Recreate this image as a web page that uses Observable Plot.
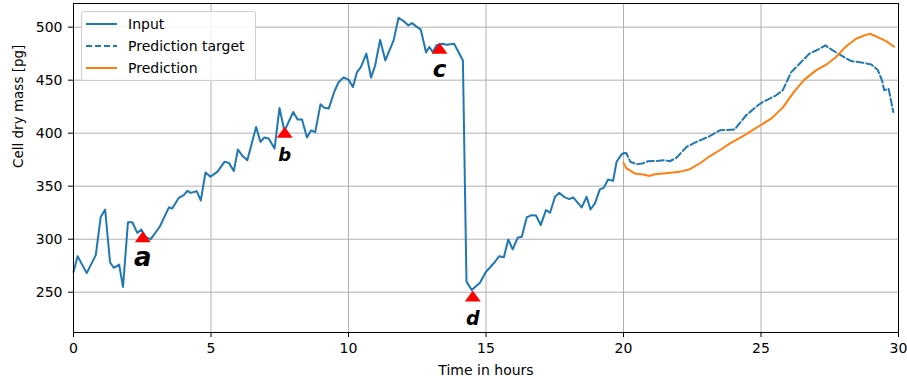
<!DOCTYPE html>
<html>
<head>
<meta charset="utf-8">
<script src="https://cdn.jsdelivr.net/npm/d3@7"></script>
<script src="https://cdn.jsdelivr.net/npm/@observablehq/plot@0.6"></script>
<style>
  html, body { margin: 0; padding: 0; background: #fff; }
  #wrap { position: relative; width: 907px; height: 383px; font-family: "DejaVu Sans", sans-serif; }
  #legend { position: absolute; left: 81px; top: 11px; width: 175px; height: 70px;
    border: 1px solid #d0d0d0; border-radius: 3px; background: rgba(255,255,255,0.85);
    box-sizing: border-box; font-size: 14px; color: #000; }
  .row { position: absolute; left: 0; height: 22px; width: 100%; }
  .row svg { position: absolute; left: 3px; top: 0; }
  .row span { position: absolute; left: 46px; top: 2px; line-height: 18px; white-space: nowrap; }
</style>
</head>
<body>
<div id="wrap"></div>
<script>
// ---- data ----
const xTicks = [0, 5, 10, 15, 20, 25, 30];
const yTicks = [250, 300, 350, 400, 450, 500];
const xLabel = "Time in hours";
const yLabel = "Cell dry mass [pg]";
const seriesNames = ["Input", "Prediction target", "Prediction"];

const inputTime = [0.0,0.15,0.48,0.81,0.99,1.15,1.33,1.47,1.66,1.80,1.98,2.14,2.32,2.47,2.62,2.81,3.14,3.47,3.59,3.83,4.01,4.14,4.26,4.48,4.63,4.80,4.98,5.23,5.49,5.65,5.83,5.98,6.13,6.32,6.64,6.80,6.94,7.10,7.31,7.49,7.67,7.99,8.15,8.31,8.49,8.64,8.79,8.98,9.12,9.28,9.49,9.64,9.82,10.0,10.16,10.31,10.45,10.65,10.82,10.97,11.15,11.34,11.64,11.82,12.0,12.18,12.31,12.46,12.63,12.82,12.94,13.07,13.2,13.39,13.58,13.84,14.16,14.29,14.48,14.78,15.0,15.17,15.33,15.48,15.65,15.81,15.97,16.15,16.30,16.48,16.66,16.82,16.99,17.18,17.33,17.51,17.66,17.87,18.03,18.17,18.48,18.66,18.80,18.96,19.14,19.28,19.44,19.62,19.75,19.93,20.0];
const inputMass = [269,284,268,285,321,328,278,273,276,255,316,316,306,309,302,300,312,330,329,339,341.5,345.6,343.7,345.3,336.5,363,359,363.5,373,372,364.4,384.6,379,374.5,405.8,391.7,395.9,394.9,385.5,423.7,402,420,412.8,412.8,396,402.7,401,427.2,424,423.2,439.5,448,452.5,450.5,443.5,457.6,462.3,475,452.4,464,488,468.6,487.5,508.9,505.7,501.6,503.8,500.7,497.6,476,481.2,476.5,483,484.4,483.4,484.4,468.6,260,252,259,269.3,274,278.7,284,283,299.8,290.4,301.3,302.3,320.5,322.7,322.4,313.3,327.4,325,340,343.7,339.4,337.8,339.4,330,340,328,333.8,347,348.4,356.3,355,373,380,381];

const targetTime = [20.0,20.1,20.25,20.47,20.69,20.89,21.20,21.50,21.68,21.92,22.29,22.65,23.13,23.50,24.04,24.46,24.89,25.07,25.55,25.79,26.10,26.40,26.76,27.06,27.34,27.61,27.91,28.28,28.70,29.0,29.24,29.40,29.48,29.64,29.81];
const targetMass = [381,381.4,373,370.7,371.4,373.5,373.8,374.5,373.5,376.6,387,391.7,397.1,402.7,403.4,416.9,426.3,429.4,435.7,440.4,457.6,465.5,475,478.7,482.8,478.1,473.4,468,466.5,464.9,459.9,449.8,440.4,442,420];

const predTime = [20.0,20.11,20.41,20.71,20.95,21.14,21.62,22.04,22.41,22.77,23.13,23.50,23.86,24.34,24.65,24.95,25.37,25.79,26.22,26.58,27.0,27.37,27.73,28.09,28.46,28.76,28.97,29.24,29.55,29.84];
const predMass = [372,366.7,362,361,359.7,361.3,362.5,363.5,366,371.4,378.2,383.9,390.2,397.1,402.1,407,413.7,424.1,439.7,450.5,459.2,464.6,471.8,481.8,489.1,492.2,493.8,490.6,486.8,481.5];

const markerTime = [2.52, 7.68, 13.31, 14.52];
const markerMass = [302.3, 400.8, 480, 246.4];
const markerLabel = ["a", "b", "c", "d"];

// ---- tables ----
const input = inputTime.map((t, i) => ({t, m: inputMass[i]}));
const target = targetTime.map((t, i) => ({t, m: targetMass[i]}));
const pred = predTime.map((t, i) => ({t, m: predMass[i]}));
const markers = markerTime.map((t, i) => ({t, m: markerMass[i], label: markerLabel[i]}));

// ---- styles ----
const blue = "#1f77b4", orange = "#ff7f0e";
const labelSize = {a: 26, b: 18, c: 23, d: 19};
const mplTriangle = {
  draw(ctx, size) {
    const r = Math.sqrt(size / Math.PI);
    ctx.moveTo(0, -0.92 * r);
    ctx.lineTo(1.33 * r, 0.92 * r);
    ctx.lineTo(-1.33 * r, 0.92 * r);
    ctx.closePath();
  }
};

const chart = Plot.plot({
  width: 907,
  height: 383,
  marginLeft: 73,
  marginRight: 9,
  marginTop: 3,
  marginBottom: 51,
  style: {fontFamily: "DejaVu Sans", fontSize: "14px", color: "#000", background: "#fff", overflow: "visible"},
  x: {domain: [0, 30], ticks: xTicks, tickSize: 5, tickPadding: 6, label: null},
  y: {domain: [212, 522.3], ticks: yTicks, tickSize: 5, tickPadding: 6, label: null},
  marks: [
    Plot.ruleX(xTicks, {stroke: "#b0b0b0", strokeWidth: 1}),
    Plot.ruleY(yTicks, {stroke: "#b0b0b0", strokeWidth: 1}),
    Plot.line(input, {x: "t", y: "m", stroke: blue, strokeWidth: 2}),
    Plot.line(target, {x: "t", y: "m", stroke: blue, strokeWidth: 2, strokeDasharray: "7,3"}),
    Plot.line(pred, {x: "t", y: "m", stroke: orange, strokeWidth: 2}),
    Plot.dot(markers, {x: "t", y: "m", symbol: mplTriangle, r: 6, fill: "red", stroke: "none"}),
    Plot.text(markers, {x: "t", y: "m", text: "label", dy: 29, lineAnchor: "bottom",
      fontSize: d => labelSize[d.label], fontWeight: "bold", fontStyle: "italic", fill: "#000"}),
    Plot.frame({stroke: "#000", strokeWidth: 1}),
    Plot.text([xLabel], {frameAnchor: "bottom", dy: 42, lineAnchor: "bottom", fontSize: 14, fill: "#000"}),
    Plot.text([yLabel], {frameAnchor: "left", dx: -50.5, rotate: -90, lineAnchor: "bottom", fontSize: 13.5, fill: "#000"})
  ]
});

const wrap = document.getElementById("wrap");
wrap.appendChild(chart);

// ---- legend ----
const legend = document.createElement("div");
legend.id = "legend";
const legendStyles = [
  {stroke: blue, dash: null},
  {stroke: blue, dash: "6,3"},
  {stroke: orange, dash: null}
];
seriesNames.forEach((name, i) => {
  const row = document.createElement("div");
  row.className = "row";
  row.style.top = (1 + i * 22) + "px";
  const s = legendStyles[i];
  row.innerHTML = `<svg width="34" height="22"><line x1="1" x2="32" y1="11" y2="11" stroke="${s.stroke}" stroke-width="2"${s.dash ? ` stroke-dasharray="${s.dash}"` : ""}/></svg><span></span>`;
  row.querySelector("span").textContent = name;
  legend.appendChild(row);
});
wrap.appendChild(legend);
</script>
</body>
</html>
